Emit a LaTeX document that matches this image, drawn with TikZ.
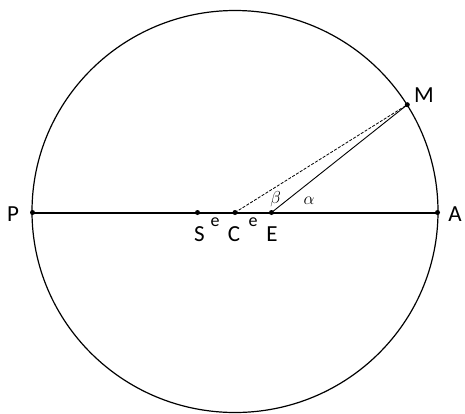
\documentclass[tikz,border=0pt]{standalone}
\usepackage{fontspec}
\setmainfont{Carlito}
\begin{document}
\begin{tikzpicture}[x=1pt,y=-1pt,
  dot/.style={circle,fill=black,inner sep=0pt,minimum size=5pt},
  lbl/.style={font=\fontsize{23}{23}\selectfont,inner sep=0pt},
  small/.style={font=\fontsize{18}{18}\selectfont,inner sep=0pt},
  greek/.style={font=\fontsize{17}{17}\selectfont,inner sep=0pt}]
\useasboundingbox (0,0) rectangle (465,413);
\draw[line width=1.2pt] (235,211.5) ellipse [x radius=203, y radius=201];
\node[dot] (P) at (32.5,212.5) {};
\node[dot] (A) at (437.5,212.5) {};
\node[dot] (S) at (197.5,212.5) {};
\node[dot] (C) at (235,212.5) {};
\node[dot] (E) at (271.5,212.5) {};
\node[dot] (M) at (407.3,104.7) {};
\draw[line width=2pt] (P.center) -- (A.center);
\draw[line width=0.9pt] (E.center) -- (M.center);
\draw[line width=0.8pt,dash pattern=on 3pt off 1.5pt] (C.center) -- (M.center);
\node[lbl] (lP) at (13,214) {P};
\node[lbl] (lA) at (455,214) {A};
\node[lbl] (lM) at (424,95) {M};
\node[lbl] (lS) at (199.5,234) {S};
\node[lbl] (lC) at (234,234) {C};
\node[lbl] (lE) at (272,234) {E};
\node[small] (e1) at (215,222) {e};
\node[small] (e2) at (253,222) {e};
\node[greek] (b) at (275.5,199) {$\beta$};
\node[greek] (a) at (309,201) {$\alpha$};
\end{tikzpicture}
\end{document}
